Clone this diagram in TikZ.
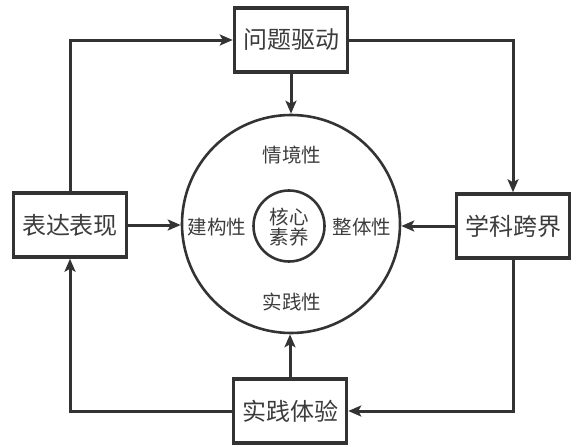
\documentclass[tikz,border=0pt]{standalone}
\usepackage{fontspec}
\setmainfont{Noto Sans CJK SC}
\usetikzlibrary{arrows.meta,positioning}
\definecolor{ink}{HTML}{333333}
\definecolor{txt}{HTML}{3C3C3C}
\tikzset{
  box/.style={draw=ink,line width=3.5pt,minimum width=113pt,minimum height=64pt,
    align=center,font=\fontsize{24}{26}\selectfont,text=txt,fill=white},
  ring/.style={draw=ink,line width=2.6pt,circle,inner sep=0pt},
  lbl/.style={font=\fontsize{19.5}{21}\selectfont,text=txt,align=center},
  flow/.style={-{Stealth[length=13pt,width=11pt,inset=3pt]},line width=3pt,draw=ink},
}
\begin{document}
\begin{tikzpicture}[x=1pt,y=-1pt]
  \useasboundingbox (0,0) rectangle (576,447);

  % central rings
  \node[ring,minimum size=218pt] (outer) at (291,224) {};
  \node[ring,minimum size=71pt] (core) at (289,226) {};
  \node[lbl] (kern) at (289,227) {核心\\[-1pt]素养};
  \node[lbl] (situ) at (292,155) {情境性};
  \node[lbl] (cons) at (217,227) {建构性};
  \node[lbl] (whole) at (362,227) {整体性};
  \node[lbl] (pract) at (292,302) {实践性};

  % four boxes
  \node[box] (prob) at (291,40) {问题驱动};
  \node[box] (expr) at (70,225) {表达表现};
  \node[box] (cross) at (513,226) {学科跨界};
  \node[box] (prac) at (290,411) {实践体验};

  % loop around
  \draw[flow] (expr.north) |- (prob.west);
  \draw[flow] (prob.east) -| (cross.north);
  \draw[flow] (cross.south) |- (prac.east);
  \draw[flow] (prac.west) -| (expr.south);

  % into the rings
  \draw[flow] (prob.south) -- (prob.south |- outer.north);
  \draw[flow] (expr.east) -- (expr.east -| outer.west);
  \draw[flow] (cross.west) -- (cross.west -| outer.east);
  \draw[flow] (prac.north) -- (prac.north |- outer.south);
\end{tikzpicture}
\end{document}
